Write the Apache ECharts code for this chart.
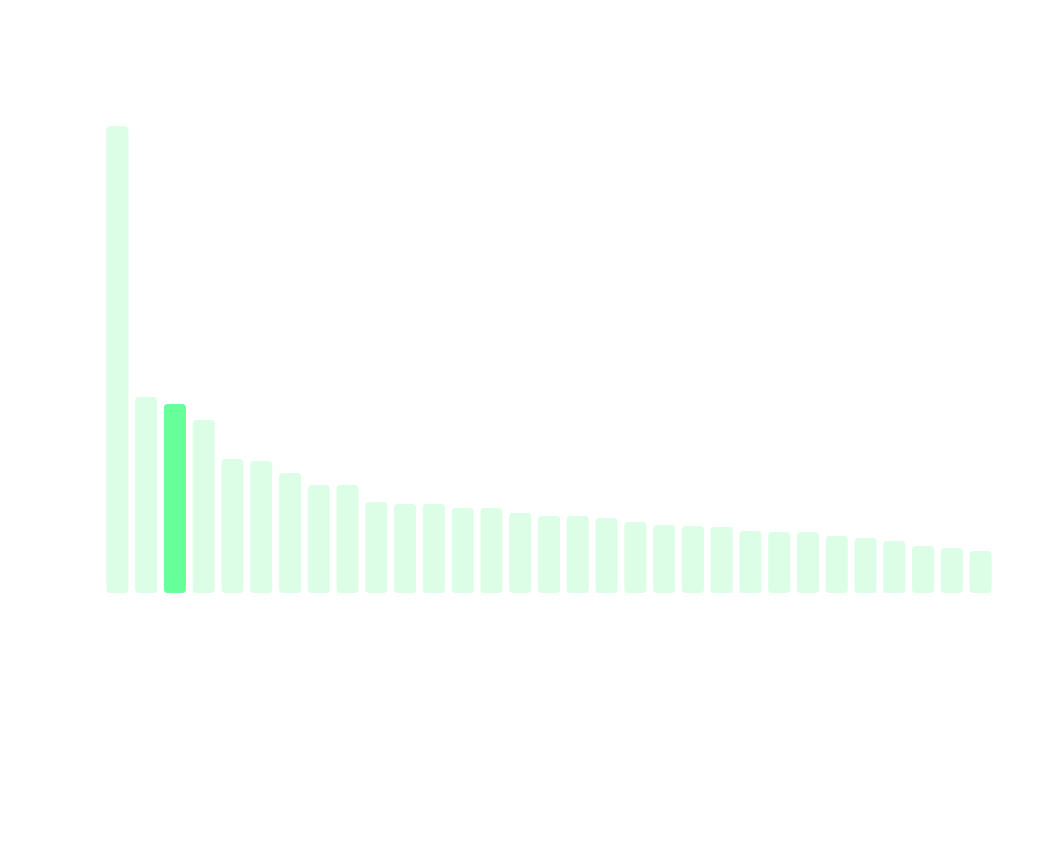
<!DOCTYPE html>
<html><head><meta charset="utf-8">
<script src="https://cdn.jsdelivr.net/npm/echarts@6/dist/echarts.min.js"></script>
<style>html,body{margin:0;padding:0;background:#fff}#c{width:1051px;height:852px}</style>
</head><body><div id="c"></div>
<script>
const categories = Array.from({length:31},(_, i)=>'C'+(i+1));
const values = [467,196,189,173,134,132,120,108,108,91,89,89,85,85,80,77,77,75,71,68,67,66,62,61,61,57,55,52,47,45,42];
const highlightIndex = 2;
const chart = echarts.init(document.getElementById('c'));
chart.setOption({
  animation:false,
  grid:{left:103,right:56,top:126,bottom:259},
  xAxis:{type:'category',data:categories,show:false},
  yAxis:{type:'value',min:0,max:467,show:false},
  series:[{type:'bar',barWidth:22,
    data:values.map((v,i)=>({value:v,itemStyle:{color:i===highlightIndex?'#66ff99':'#dcfde6'}})),
    itemStyle:{borderRadius:4}}]
});
</script></body></html>
